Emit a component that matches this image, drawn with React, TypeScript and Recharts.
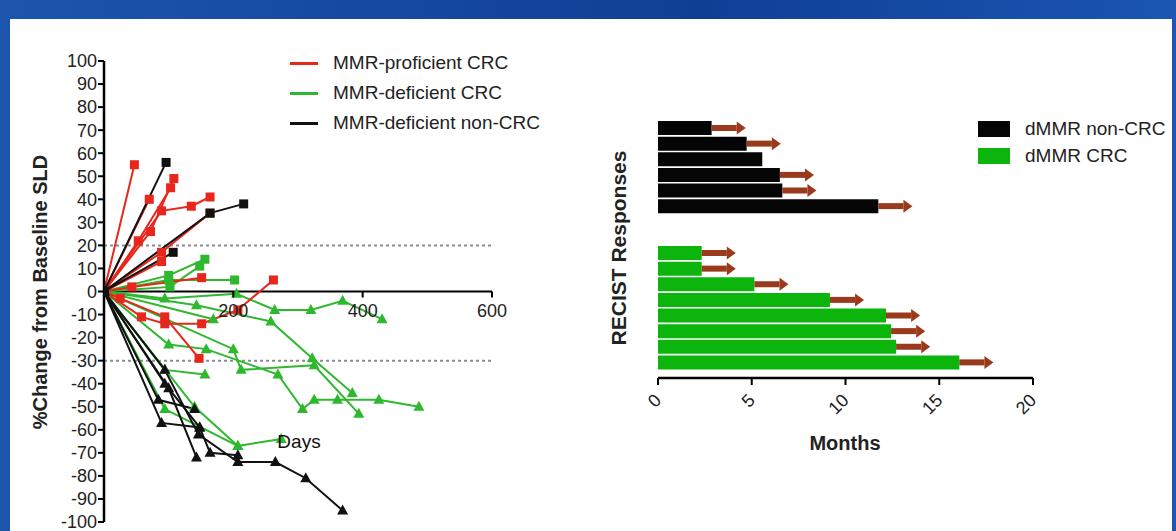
import React from 'react';
import { LineChart, Line, XAxis, YAxis, ReferenceLine, BarChart, Bar } from 'recharts';

// ---- spider plot: % change from baseline SLD vs days ----
const Y_TICKS = [100, 90, 80, 70, 60, 50, 40, 30, 20, 10, 0, -10, -20, -30, -40, -50, -60, -70, -80, -90, -100];
const DAY_TICKS = [200, 400, 600];

// each patient is a list of [day, % change]
const PROFICIENT_CRC = [
  [[0, 0], [47, 55]],
  [[0, 0], [70, 40]],
  [[0, 0], [53, 22], [103, 45]],
  [[0, 0], [72, 26], [108, 49]],
  [[0, 0], [89, 35], [135, 37], [164, 41]],
  [[0, 0], [89, 17], [164, 34]],
  [[0, 0], [89, 13]],
  [[0, 0], [43, 2], [151, 6]],
  [[0, 0], [58, -11], [94, -14], [151, -14], [207, -8], [262, 5]],
  [[0, 0], [25, -3], [94, -11], [147, -29]],
];

const DEFICIENT_CRC = [
  [[0, 0], [100, 7], [156, 14]],
  [[0, 0], [102, 2], [148, 11]],
  [[0, 0], [100, 5], [202, 5]],
  [[0, 0], [94, -3], [205, -1], [264, -8], [320, -8], [369, -4], [430, -12]],
  [[0, 0], [143, -6], [258, -13], [322, -29], [384, -44]],
  [[0, 0], [169, -12]],
  [[0, 0], [100, -23], [158, -25], [269, -36], [307, -51], [325, -47], [361, -47], [425, -47], [487, -50]],
  [[0, 0], [200, -25], [212, -34], [325, -32], [394, -53]],
  [[0, 0], [94, -34], [156, -36]],
  [[0, 0], [94, -51], [207, -67], [274, -64]],
  [[0, 0], [140, -50], [207, -67]],
];
const DEFICIENT_CRC_MARKERS = ['square', 'square', 'square', 'triangle', 'triangle', 'triangle', 'triangle', 'triangle', 'triangle', 'triangle', 'triangle'];

const DEFICIENT_NON_CRC = [
  [[0, 0], [96, 56]],
  [[0, 0], [107, 17]],
  [[0, 0], [164, 34], [216, 38]],
  [[0, 0], [94, -34], [146, -62], [207, -74], [265, -74], [312, -81], [369, -95]],
  [[0, 0], [89, -57], [148, -59], [164, -70], [207, -71]],
  [[0, 0], [84, -47], [140, -51]],
  [[0, 0], [100, -42], [143, -72]],
  [[0, 0], [94, -40], [148, -59]],
];
const DEFICIENT_NON_CRC_MARKERS = ['square', 'square', 'square', 'triangle', 'triangle', 'triangle', 'triangle', 'triangle'];

const SPIDER_LEGEND = ['MMR-proficient CRC', 'MMR-deficient CRC', 'MMR-deficient non-CRC'];

// ---- swimmer plot: months of response ----
const NON_CRC_MONTHS = [2.86, 4.73, 5.56, 6.5, 6.63, 11.75];
const NON_CRC_ONGOING = [true, true, false, true, true, true];
const CRC_MONTHS = [2.33, 2.33, 5.14, 9.17, 12.16, 12.43, 12.7, 16.07];
const CRC_ONGOING = [true, true, true, true, true, true, true, true];
const ARROW_MONTHS = 1.82;
const MONTH_TICKS = [0, 5, 10, 15, 20];
const SWIMMER_LEGEND = ['dMMR non-CRC', 'dMMR CRC'];

const RED = '#e8261c';
const GREEN = '#2eb82e';
const BLACK = '#111111';
const BAR_GREEN = '#0bb50b';
const ARROW_COLOR = '#9a3a1c';
const FONT = '"Liberation Sans", Arial, sans-serif';

const SPIDER_H = 560;
const SPIDER_TOP = 61;
const SPIDER_BOTTOM = 522;
const DAY_AXIS_H = 20;
const ZERO_PX = (SPIDER_TOP + SPIDER_BOTTOM) / 2;

const toPoints = (s: number[][]) => s.map(([day, v]) => ({ day, v }));

const marker = (shape: string, color: string) => (props: any) => {
  const { cx, cy, index } = props;
  const key = `m-${index}-${cx}-${cy}`;
  if (cx == null || cy == null) return <g key={key} />;
  if (shape === 'triangle') {
    return <polygon key={key} points={`${cx},${cy - 6} ${cx - 5.5},${cy + 4} ${cx + 5.5},${cy + 4}`} fill={color} />;
  }
  return <rect key={key} x={cx - 4.5} y={cy - 4.5} width={9} height={9} fill={color} />;
};

// the day axis crosses at 0%, so its ticks are drawn on the zero line
const DayTick = (props: any) => {
  const { x, payload } = props;
  return (
    <g>
      <line x1={x} x2={x} y1={ZERO_PX} y2={ZERO_PX + 6} stroke="#000" strokeWidth={2} />
      <text x={x} y={ZERO_PX + 25} textAnchor="middle" fontSize={18} fill="#222" fontFamily={FONT}>
        {payload.value}
      </text>
    </g>
  );
};

const MonthTick = (props: any) => {
  const { x, y, payload } = props;
  const ty = y + 10;
  return (
    <text x={x} y={ty} dy="0.35em" transform={`rotate(-45 ${x} ${ty})`} textAnchor="end" fontSize={18} fill="#222" fontFamily={FONT}>
      {payload.value}
    </text>
  );
};

const ArrowShape = (props: any) => {
  const { x, y, width, height } = props;
  if (!width || width <= 0) return <g />;
  const cy = y + height / 2;
  const head = 9;
  return (
    <g>
      <rect x={x} y={cy - 3} width={width - head} height={6} fill={ARROW_COLOR} />
      <polygon points={`${x + width - head},${cy - 6.5} ${x + width},${cy} ${x + width - head},${cy + 6.5}`} fill={ARROW_COLOR} />
    </g>
  );
};

const SWIMMER_ROWS = [
  ...NON_CRC_MONTHS.map((m, i) => ({ id: `n${i}`, nonCrc: m, arrow: NON_CRC_ONGOING[i] ? ARROW_MONTHS : undefined })),
  { id: 'gap1' },
  { id: 'gap2' },
  ...CRC_MONTHS.map((m, i) => ({ id: `c${i}`, crc: m, arrow: CRC_ONGOING[i] ? ARROW_MONTHS : undefined })),
];

const textBox = (cx: number, cy: number, rotate = 0): React.CSSProperties => ({
  position: 'absolute',
  left: cx,
  top: cy,
  transform: `translate(-50%, -50%) rotate(${rotate}deg)`,
  whiteSpace: 'nowrap',
  fontFamily: FONT,
  color: '#222',
});

export default function App() {
  const spiderColors = [RED, GREEN, BLACK];
  return (
    <div
      style={{
        position: 'absolute',
        left: 0,
        top: 0,
        width: 1176,
        height: 531,
        overflow: 'hidden',
        background: 'linear-gradient(90deg, #1d55ad 0%, #0f3f95 60%, #1b56b3 100%)',
        fontFamily: FONT,
      }}
    >
      <div style={{ position: 'absolute', left: 10, top: 19, width: 1162, height: 520, background: '#fff' }} />

      {/* spider plot */}
      <div style={{ position: 'absolute', left: 0, top: 0 }}>
        <LineChart
          width={520}
          height={SPIDER_H}
          margin={{ top: SPIDER_TOP, right: 28, bottom: SPIDER_H - SPIDER_BOTTOM - DAY_AXIS_H, left: 44 }}
        >
          <XAxis
            type="number"
            dataKey="day"
            domain={[0, 600]}
            ticks={DAY_TICKS}
            interval={0}
            height={DAY_AXIS_H}
            axisLine={false}
            tickLine={false}
            tick={<DayTick />}
            allowDataOverflow
          />
          <YAxis
            type="number"
            domain={[-100, 100]}
            ticks={Y_TICKS}
            interval={0}
            width={60}
            tickSize={6}
            tickMargin={1}
            axisLine={{ stroke: '#000', strokeWidth: 2.5 }}
            tickLine={{ stroke: '#000', strokeWidth: 2 }}
            tick={{ fontSize: 18, fill: '#222', fontFamily: FONT }}
          />
          <ReferenceLine y={20} stroke="#8a8a98" strokeWidth={2} strokeDasharray="3 3" />
          <ReferenceLine y={-30} stroke="#8a8a98" strokeWidth={2} strokeDasharray="3 3" />
          <ReferenceLine y={0} stroke="#000" strokeWidth={2} />
          {DEFICIENT_CRC.map((s, i) => (
            <Line
              key={`g${i}`}
              data={toPoints(s)}
              dataKey="v"
              type="linear"
              stroke={GREEN}
              strokeWidth={2}
              dot={marker(DEFICIENT_CRC_MARKERS[i], GREEN)}
              activeDot={false}
              isAnimationActive={false}
            />
          ))}
          {PROFICIENT_CRC.map((s, i) => (
            <Line
              key={`r${i}`}
              data={toPoints(s)}
              dataKey="v"
              type="linear"
              stroke={RED}
              strokeWidth={2}
              dot={marker('square', RED)}
              activeDot={false}
              isAnimationActive={false}
            />
          ))}
          {DEFICIENT_NON_CRC.map((s, i) => (
            <Line
              key={`b${i}`}
              data={toPoints(s)}
              dataKey="v"
              type="linear"
              stroke={BLACK}
              strokeWidth={2}
              dot={marker(DEFICIENT_NON_CRC_MARKERS[i], BLACK)}
              activeDot={false}
              isAnimationActive={false}
            />
          ))}
        </LineChart>
      </div>

      {SPIDER_LEGEND.map((name, i) => (
        <div key={name} style={{ position: 'absolute', left: 290, top: 63 + i * 30 - 12, height: 24, display: 'flex', alignItems: 'center' }}>
          <div style={{ width: 28, height: 3, background: spiderColors[i] }} />
          <span style={{ marginLeft: 15, fontSize: 19, color: '#222' }}>{name}</span>
        </div>
      ))}
      <div style={{ ...textBox(40, 292, -90), fontSize: 20, fontWeight: 'bold' }}>%Change from Baseline SLD</div>
      <div style={{ ...textBox(299, 442), fontSize: 19, color: '#111' }}>Days</div>

      {/* swimmer plot */}
      <div style={{ position: 'absolute', left: 560, top: 0 }}>
        <BarChart
          width={616}
          height={531}
          layout="vertical"
          data={SWIMMER_ROWS}
          margin={{ top: 97, right: 143, bottom: 113, left: 98 }}
        >
          <XAxis
            type="number"
            domain={[0, 20]}
            ticks={MONTH_TICKS}
            height={40}
            tickSize={7}
            tickMargin={2}
            axisLine={{ stroke: '#000', strokeWidth: 2.5 }}
            tickLine={{ stroke: '#000', strokeWidth: 2 }}
            tick={<MonthTick />}
          />
          <YAxis
            type="category"
            dataKey="id"
            width={0}
            tick={false}
            tickLine={false}
            padding={{ top: 23, bottom: 8 }}
            axisLine={{ stroke: '#000', strokeWidth: 2.5 }}
          />
          <Bar dataKey="nonCrc" stackId="s" fill="#050505" barSize={14} isAnimationActive={false} />
          <Bar dataKey="crc" stackId="s" fill={BAR_GREEN} barSize={14} isAnimationActive={false} />
          <Bar dataKey="arrow" stackId="s" barSize={14} shape={ArrowShape} legendType="none" isAnimationActive={false} />
        </BarChart>
      </div>

      {SWIMMER_LEGEND.map((name, i) => (
        <div key={name} style={{ position: 'absolute', left: 978, top: 121 + i * 27, height: 16, display: 'flex', alignItems: 'center' }}>
          <div style={{ width: 32, height: 16, background: i === 0 ? '#050505' : BAR_GREEN }} />
          <span style={{ marginLeft: 15, fontSize: 19, color: '#222' }}>{name}</span>
        </div>
      ))}
      <div style={{ ...textBox(619, 248, -90), fontSize: 21, fontWeight: 'bold' }}>RECIST Responses</div>
      <div style={{ ...textBox(845, 443), fontSize: 20, fontWeight: 'bold' }}>Months</div>
    </div>
  );
}
